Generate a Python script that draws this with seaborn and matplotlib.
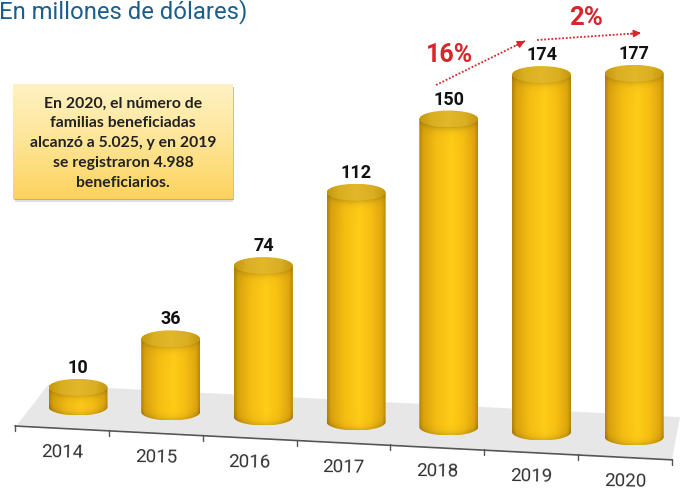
import numpy as np
import pandas as pd
import matplotlib
matplotlib.use('Agg')
import matplotlib.pyplot as plt
from matplotlib.colors import to_rgb
from matplotlib.patches import Ellipse, Polygon, Rectangle
import seaborn as sns

years = ['2014', '2015', '2016', '2017', '2018', '2019', '2020']
values = [10, 36, 74, 112, 150, 174, 177]
title = 'En millones de dólares)'
note = ('En 2020, el número de\nfamilias beneficiadas\nalcanzó a 5.025, y en 2019\n'
        'se registraron 4.988\nbeneficiarios.')
growth = ['16%', '2%']

sns.set_theme(style='white')
plt.rcParams['font.family'] = ['Roboto', 'DejaVu Sans']

W, H = 685, 490
STEP = 92.7      # px between bars
UNIT = 2.06      # px per million
ZERO = 408       # px of the first baseline
FOOT = 1 / UNIT  # foot sits a little above the zero line
CAP = 8.5 / UNIT # half height of the ellipses
DROP = 5 / UNIT  # baseline falls to the right

body_stops = [0, .07, .3, .55, .75, .94, 1]
body_cols = ['#B4840B', '#DAA20E', '#F5BE13', '#FFCC18', '#F7BF13', '#DEA60E', '#B8880B']
cap_cols = ['#C4960F', '#D9AE20', '#E2B82A', '#D9AE20', '#C4960F']


def ramp(u, stops, cols):
  rgb = np.array([to_rgb(c) for c in cols])
  return np.stack([np.interp(u, stops, rgb[:, k]) for k in range(3)], axis=-1)


def px_x(x):
  return 426 + 0.0515 * (x - 15)


fig = plt.figure(figsize=(W / 100, H / 100), dpi=100)

# pixel layer for floor, axis, note and arrows
bg = fig.add_axes([0, 0, 1, 1])
bg.set_xlim(0, W)
bg.set_ylim(H, 0)
bg.axis('off')

bg.add_patch(Polygon([(17, 425), (672, 459), (680, 417), (48, 385)], color='#E7E7E7', lw=0))
ticks = [15 + 93.86 * i for i in range(8)]
bg.plot([ticks[0], ticks[-1]], [px_x(ticks[0]), px_x(ticks[-1])], color='#555555', lw=1.2)
for t in ticks:
  bg.plot([t, t], [px_x(t) - 1, px_x(t) + 5], color='#555555', lw=1)
for i, year in enumerate(years):
  mid = (ticks[i] + ticks[i + 1]) / 2
  bg.text(mid, px_x(mid) + 24, year, ha='center', va='center', fontsize=13.5, color='#333333', rotation=-1)

bg.text(-1, 12, title, ha='left', va='center', fontsize=17.2, color='#1B5E8C')

# note box
bg.add_patch(Rectangle((15, 89), 218, 113, color='#808080', alpha=.25, lw=0))
bg.add_patch(Rectangle((14, 87), 220, 113.5, color='#707070', alpha=.45, lw=0))
grad = ramp(np.linspace(0, 1, 100), [0, .5, 1], ['#FEF2C2', '#FEE596', '#FDD35C'])[:, None, :]
bg.imshow(grad, extent=(13, 233, 199, 85), aspect='auto', zorder=2)
bg.text(123, 143, note, ha='center', va='center', fontsize=11.3, family='Lato', weight='bold',
        color='#222222', linespacing=1.53, zorder=3)

# growth arrows
red = '#D9252B'
for start, end in [((436, 85), (525, 41)), ((537, 40), (641, 33))]:
  bg.plot([start[0], end[0]], [start[1], end[1]], color=red, lw=1.3, ls=(0, (1, 1)))
  bg.annotate('', xy=end, xytext=(end[0] - (end[0] - start[0]) * .1, end[1] - (end[1] - start[1]) * .1),
              arrowprops=dict(arrowstyle='-|>', color=red, lw=1, mutation_scale=11, shrinkA=0, shrinkB=0))
bg.text(450, 55, growth[0], ha='center', va='center', fontsize=18, weight='bold', color=red)
bg.text(586, 18, growth[1], ha='center', va='center', fontsize=18.5, weight='bold', color=red)
bg.set_xlim(0, W)
bg.set_ylim(H, 0)

# bars
ax = fig.add_axes([0, 0, 1, 1], zorder=2)
df = pd.DataFrame({'year': years, 'value': values})
sns.barplot(data=df, x='year', y='value', color='#F0B410', width=59 / STEP, errorbar=None, saturation=1, ax=ax)
xlim = (-78 / STEP, (W - 78) / STEP)
ylim = ((ZERO - H) / UNIT, ZERO / UNIT)

for i, (bar, value) in enumerate(zip(ax.patches, values)):
  base = -DROP * i
  top = base + value
  foot = base + FOOT
  bar.set_y(foot)
  bar.set_height(top - foot)
  bar.set_visible(False)
  x0, w = bar.get_x(), bar.get_width()
  x1 = x0 + w
  cx = x0 + w / 2

  # cylinder body with shading towards rim and foot
  u = np.linspace(0, 1, 90)
  yy = np.linspace(foot - CAP, top + CAP, max(int((value * UNIT + 2 * CAP * UNIT) * 2), 40))
  arc = CAP * np.sqrt(np.clip(1 - (2 * u - 1) ** 2, 0, 1))
  img = ramp(u, body_stops, body_cols)[None, :, :].repeat(len(yy), axis=0)
  under = (top - arc)[None, :] - yy[:, None]
  above = yy[:, None] - (foot - arc)[None, :]
  shade = 1 - .2 * np.exp(-np.clip(under, 0, None) / 1.6) - .14 * np.exp(-np.clip(above, 0, None) / 1.5)
  img = img * shade[:, :, None]
  im = ax.imshow(img, extent=(x0, x1, yy[0], yy[-1]), origin='lower', aspect='auto', zorder=3)
  theta = np.linspace(np.pi, 2 * np.pi, 40)
  outline = list(zip(cx + w / 2 * np.cos(theta), foot + CAP * np.sin(theta))) + [(x1, top), (x0, top)]
  clip = Polygon(outline, transform=ax.transData, fc='none', ec='none')
  ax.add_patch(clip)
  im.set_clip_path(clip)

  # top of the cylinder
  cap_img = ramp(u, [0, .2, .5, .8, 1], cap_cols)[None, :, :]
  cap_im = ax.imshow(cap_img, extent=(x0, x1, top - CAP, top + CAP), origin='lower', aspect='auto', zorder=4)
  cap = Ellipse((cx, top), w, 2 * CAP, transform=ax.transData, fc='none', ec='none')
  ax.add_patch(cap)
  cap_im.set_clip_path(cap)

  ax.annotate(str(value), (cx, top), xytext=(0, 19.5 * 0.72), textcoords='offset points', ha='center',
              va='center', fontsize=13, weight='bold', color='#111111', zorder=5)

ax.set_xlim(xlim)
ax.set_ylim(ylim)
ax.axis('off')

fig.savefig('out.png', dpi=100)
